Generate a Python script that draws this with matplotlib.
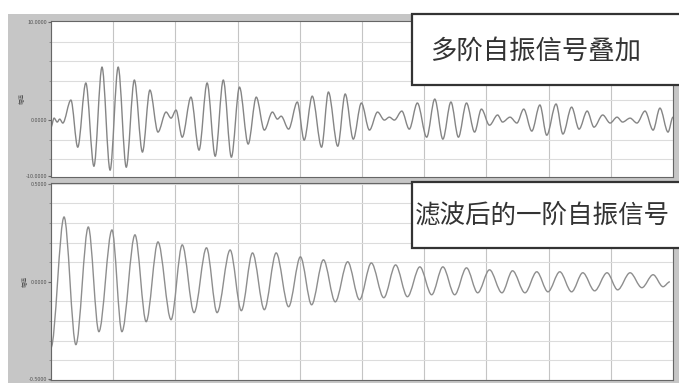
import matplotlib

matplotlib.use("Agg")
import matplotlib.pyplot as plt
from matplotlib.patches import PathPatch, Rectangle
from matplotlib.path import Path

plt.rcParams["font.family"] = ["Noto Sans CJK SC", "DejaVu Sans"]

# extrema of the superposed multi-mode signal (time in grid divisions, amplitude in grid units)
top_t = [0.00, 0.05, 0.10, 0.14, 0.19, 0.32, 0.43, 0.56, 0.69, 0.82, 0.95, 1.08, 1.21, 1.34,
         1.47, 1.59, 1.72, 1.85, 1.93, 2.01, 2.11, 2.25, 2.38, 2.51, 2.64, 2.77, 2.90, 3.03,
         3.17, 3.30, 3.43, 3.56, 3.64, 3.70, 3.82, 3.96, 4.07, 4.20, 4.35, 4.46, 4.61, 4.73,
         4.86, 4.99, 5.12, 5.25, 5.36, 5.44, 5.52, 5.64, 5.76, 5.89, 6.04, 6.17, 6.30, 6.43,
         6.55, 6.68, 6.81, 6.92, 7.05, 7.18, 7.26, 7.38, 7.49, 7.60, 7.73, 7.86, 7.97, 8.12,
         8.23, 8.37, 8.49, 8.62, 8.73, 8.87, 8.99, 9.10, 9.19, 9.31, 9.42, 9.55, 9.68, 9.79,
         9.92, 10.00]
top_amp = [-0.36, 0.10, -0.10, 0.05, -0.15, 1.02, -1.38, 1.89, -2.35, 2.70, -2.55, 2.70, -2.40,
           2.04, -1.63, 1.53, -0.61, 0.41, 0.10, 0.51, -0.87, 1.17, -1.53, 1.89, -1.84, 2.04,
           -1.89, 1.68, -1.22, 1.17, -0.51, 0.41, 0.05, 0.20, -0.46, 0.92, -1.02, 1.22, -1.38,
           1.43, -1.33, 1.33, -0.97, 0.87, -0.51, 0.41, 0.00, 0.15, 0.00, 0.46, -0.46, 0.87,
           -0.87, 1.07, -0.97, 0.92, -0.87, 0.87, -0.61, 0.56, -0.26, 0.26, -0.10, 0.15, -0.15,
           0.56, -0.56, 0.77, -0.77, 0.82, -0.71, 0.66, -0.46, 0.46, -0.36, 0.26, -0.15, 0.15,
           -0.10, 0.10, -0.15, 0.46, -0.51, 0.61, -0.61, 0.15]

# extrema of the filtered first-mode signal
bot_t = [0.00, 0.21, 0.40, 0.60, 0.77, 0.98, 1.14, 1.35, 1.53, 1.72, 1.93, 2.11, 2.30, 2.50,
         2.67, 2.88, 3.06, 3.24, 3.43, 3.62, 3.82, 4.01, 4.19, 4.38, 4.57, 4.77, 4.96, 5.15,
         5.35, 5.54, 5.73, 5.93, 6.12, 6.30, 6.49, 6.68, 6.86, 7.05, 7.25, 7.42, 7.62, 7.81,
         7.99, 8.18, 8.37, 8.55, 8.74, 8.94, 9.11, 9.31, 9.50, 9.68, 9.84, 9.95]
bot_amp = [-3.35, 3.30, -3.20, 2.79, -2.54, 2.64, -2.54, 2.39, -2.03, 2.03, -1.93, 1.88, -1.57,
           1.73, -1.57, 1.62, -1.47, 1.47, -1.42, 1.47, -1.27, 1.27, -1.17, 1.12, -1.02, 1.02,
           -0.91, 0.96, -0.81, 0.86, -0.76, 0.76, -0.66, 0.76, -0.66, 0.71, -0.56, 0.61, -0.56,
           0.56, -0.56, 0.51, -0.51, 0.51, -0.51, 0.46, -0.46, 0.46, -0.41, 0.46, -0.30, 0.36,
           -0.25, 0.00]

top_label = "多阶自振信号叠加"
bot_label = "滤波后的一阶自振信号"
top_ticklabels = ["10.0000", "0.0000", "-10.0000"]
bot_ticklabels = ["0.5000", "0.0000", "-0.5000"]

W, H = 679, 383


def wave_path(t, a):
    # smooth half-cycles between successive extrema (horizontal tangent at each extremum)
    verts = [(t[0], a[0])]
    codes = [Path.MOVETO]
    for i in range(1, len(t)):
        dt = t[i] - t[i - 1]
        verts += [(t[i - 1] + dt / 3, a[i - 1]), (t[i] - dt / 3, a[i]), (t[i], a[i])]
        codes += [Path.CURVE4] * 3
    return Path(verts, codes)


def fx(px):
    return px / W


def fy(py):
    return 1 - py / H


def setup_panel(ax, ylim, ticklabels):
    ax.set_zorder(2)
    ax.set_facecolor("white")
    ax.set_xlim(0, 10)
    ax.set_ylim(*ylim)
    ax.set_xticks(range(11))
    ax.set_xticklabels([])
    ax.tick_params(axis="x", length=0)
    ax.set_yticks([ylim[1] - 0.05, 0, ylim[0] + 0.05])
    ax.set_yticklabels(ticklabels, fontsize=4, color="#555555")
    ax.set_yticks(range(int(ylim[0]), int(ylim[1]) + 1), minor=True)
    ax.tick_params(axis="y", which="major", length=2, pad=1, color="#666666")
    ax.tick_params(axis="y", which="minor", length=1.5, color="#888888")
    ax.grid(axis="x", color="#c4c4c4", lw=0.8)
    ax.grid(axis="y", which="minor", color="#dcdcdc", lw=0.8)
    for s in ax.spines.values():
        s.set_color("#666666")
        s.set_linewidth(0.8)
    ax.set_axisbelow(True)


fig = plt.figure(figsize=(W / 100, H / 100), dpi=100)
fig.patches.append(Rectangle((fx(8), 0), fx(W - 8), fy(14), transform=fig.transFigure,
                             facecolor="#c6c6c6", edgecolor="none", zorder=0))

ax_top = fig.add_axes([fx(51), fy(177), fx(622), (177 - 21) / H])
ax_bot = fig.add_axes([fx(51), fy(380), fx(622), (380 - 183) / H])

setup_panel(ax_top, (-2.9, 5.05), top_ticklabels)
setup_panel(ax_bot, (-5.0, 5.03), bot_ticklabels)
ax_top.set_ylabel("幅值", fontsize=4, color="#555555", labelpad=1)
ax_bot.set_ylabel("幅值", fontsize=4, color="#555555", labelpad=1)

ax_top.add_patch(PathPatch(wave_path(top_t, top_amp), fill=False, edgecolor="#858585", lw=1.0))
ax_bot.add_patch(PathPatch(wave_path(bot_t, bot_amp), fill=False, edgecolor="#8e8e8e", lw=1.0))

# annotation boxes
for y0, y1 in [(14, 85), (182, 248)]:
    fig.patches.append(Rectangle((fx(412), fy(y1)), fx(W - 412 + 5), (y1 - y0) / H,
                                 transform=fig.transFigure, facecolor="white",
                                 edgecolor="#333333", lw=1.6, zorder=5))
fig.text(fx(430), fy(51), top_label, fontsize=19, color="#333333", va="center", ha="left",
         zorder=6)
fig.text(fx(415), fy(215), bot_label, fontsize=18.4, color="#333333", va="center", ha="left",
         zorder=6)

fig.savefig("out.png", dpi=100)
plt.close(fig)
